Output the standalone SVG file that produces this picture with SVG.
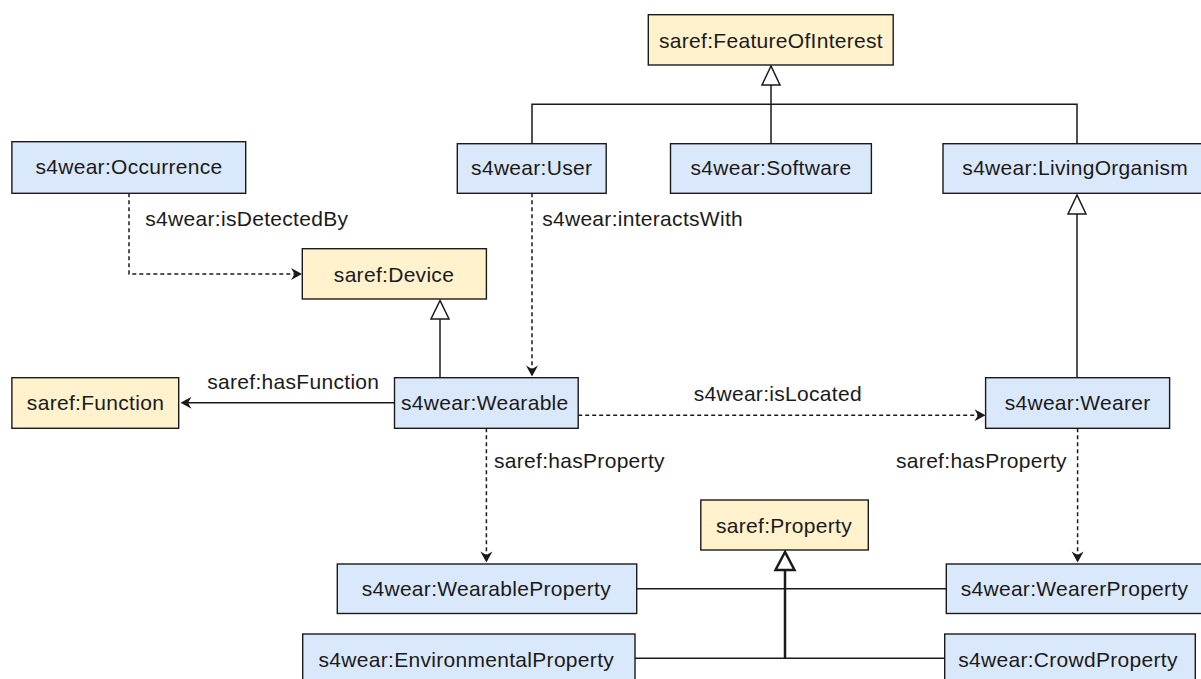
<svg xmlns="http://www.w3.org/2000/svg" width="1201" height="679" viewBox="0 0 1201 679">
<defs>
<style>
.box rect{stroke:#1a1a1a;stroke-width:1.4}
.blue rect{fill:#dae8fc}
.yellow rect{fill:#fff2cc}
text{font-family:"Liberation Sans",Arial,Helvetica,sans-serif;font-size:21px;letter-spacing:0.3px;fill:#1a1a1a}
.box text{text-anchor:middle}
.lbl{text-anchor:middle}
.ln{fill:none;stroke:#1a1a1a;stroke-width:1.5}
.dash{stroke-dasharray:4 3}
.gen{fill:#ffffff;stroke:#1a1a1a;stroke-width:1.5;stroke-linejoin:miter}
.thick{stroke-width:2.5}
</style>
<marker id="arr" markerUnits="userSpaceOnUse" viewBox="-12 -7 13 14" markerWidth="13" markerHeight="14" refX="-7.5" refY="0" orient="auto">
<path d="M0,0 L-11,-6 L-7.5,0 L-11,6 Z" fill="#1a1a1a" stroke="none"/>
</marker>
</defs>
<rect width="1201" height="679" fill="#ffffff"/>

<g id="connectors">
<!-- FeatureOfInterest generalization -->
<path class="ln" d="M532,144 V104.3 H1077 V144"/>
<path class="ln" d="M771,144 V85"/>
<polygon class="gen" points="771,66 762,85 780,85"/>
<!-- LivingOrganism generalization -->
<path class="ln" d="M1077,378 V214"/>
<polygon class="gen" points="1077,195 1068,214 1086,214"/>
<!-- Device generalization -->
<path class="ln" d="M440,378 V319"/>
<polygon class="gen" points="440,300.5 431,319 449,319"/>
<!-- Property generalization -->
<path class="ln" d="M636.7,588.7 H946.3"/>
<path class="ln" d="M635,658.3 H944.7"/>
<path class="ln thick" d="M785,570 V658.3"/>
<polygon class="gen thick" points="785,552 775.5,570 794.5,570"/>
<!-- isDetectedBy -->
<path class="ln dash" d="M129,193.3 V274 H294.5" marker-end="url(#arr)"/>
<!-- interactsWith -->
<path class="ln dash" d="M532,193.3 V369" marker-end="url(#arr)"/>
<!-- hasFunction -->
<path class="ln" d="M394.5,402.7 H188" marker-end="url(#arr)"/>
<!-- isLocated -->
<path class="ln dash" d="M578.2,415.3 H978" marker-end="url(#arr)"/>
<!-- hasProperty (Wearable) -->
<path class="ln dash" d="M486.4,428.3 V555" marker-end="url(#arr)"/>
<!-- hasProperty (Wearer) -->
<path class="ln dash" d="M1077.6,428.3 V555" marker-end="url(#arr)"/>
<text class="lbl" x="246.8" y="226">s4wear:isDetectedBy</text>
<text class="lbl" x="642.6" y="226">s4wear:interactsWith</text>
<text class="lbl" x="293.3" y="389">saref:hasFunction</text>
<text class="lbl" x="777.8" y="400.7">s4wear:isLocated</text>
<text class="lbl" x="579.4" y="467.7">saref:hasProperty</text>
<text class="lbl" x="981.5" y="467.7">saref:hasProperty</text>
</g>

<g id="featureOfInterest" class="box yellow"><rect x="648.3" y="14.7" width="244.9" height="50.3"/><text x="771" y="47.5">saref:FeatureOfInterest</text></g>
<g id="occurrence" class="box blue"><rect x="11.9" y="141.7" width="233.8" height="51.6"/><text x="129" y="174">s4wear:Occurrence</text></g>
<g id="user" class="box blue"><rect x="457.3" y="143.7" width="148.9" height="49.6"/><text x="531.7" y="175">s4wear:User</text></g>
<g id="software" class="box blue"><rect x="670.5" y="143.7" width="200.9" height="49.6"/><text x="771" y="175">s4wear:Software</text></g>
<g id="livingOrganism" class="box blue"><rect x="943" y="143.7" width="264" height="49.6"/><text x="1075.2" y="175">s4wear:LivingOrganism</text></g>
<g id="device" class="box yellow"><rect x="302.3" y="248.7" width="184.1" height="50.3"/><text x="394" y="281.5">saref:Device</text></g>
<g id="function" class="box yellow"><rect x="11.9" y="377.7" width="166.8" height="50.6"/><text x="95.5" y="410">saref:Function</text></g>
<g id="wearable" class="box blue"><rect x="394.5" y="377.7" width="183.7" height="50.6"/><text x="484.8" y="410">s4wear:Wearable</text></g>
<g id="wearer" class="box blue"><rect x="985.6" y="377.7" width="184" height="50.6"/><text x="1077.6" y="410">s4wear:Wearer</text></g>
<g id="property" class="box yellow"><rect x="700.8" y="500" width="167.5" height="50"/><text x="784" y="532.5">saref:Property</text></g>
<g id="wearableProperty" class="box blue"><rect x="337.3" y="564" width="299.4" height="49.5"/><text x="486.3" y="596">s4wear:WearableProperty</text></g>
<g id="wearerProperty" class="box blue"><rect x="946.3" y="564" width="258" height="49.5"/><text x="1074.5" y="596">s4wear:WearerProperty</text></g>
<g id="environmentalProperty" class="box blue"><rect x="302.7" y="634" width="332.3" height="50"/><text x="466.3" y="667">s4wear:EnvironmentalProperty</text></g>
<g id="crowdProperty" class="box blue"><rect x="944.7" y="634" width="250.6" height="50"/><text x="1068" y="667">s4wear:CrowdProperty</text></g>
</svg>
